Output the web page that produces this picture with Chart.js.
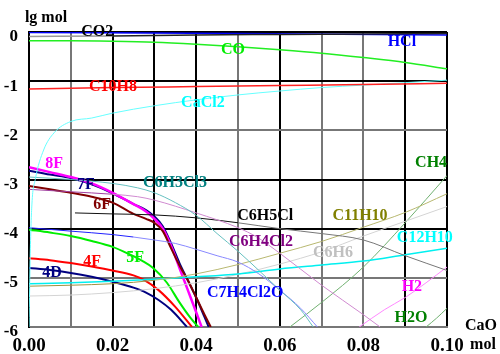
<!DOCTYPE html>
<html>
<head>
<meta charset="utf-8">
<script src="https://cdn.jsdelivr.net/npm/chart.js@4/dist/chart.umd.min.js"></script>
<style>
  html, body { margin: 0; padding: 0; background: #fff; }
  #wrap { width: 500px; height: 354px; position: relative; }
</style>
</head>
<body>
<div id="wrap"><canvas id="chart"></canvas></div>
<script>
// ========================
// DATA (x = CaO mol, y = lg mol)
// ========================
const co2X = [0, 0.02, 0.04, 0.06, 0.08, 0.1];
const co2Y = [-0.09, -0.08, -0.06, -0.05, -0.04, -0.03];

const hclX = [0, 0.05, 0.1];
const hclY = [-0.01, -0.03, -0.06];

const coX = [0, 0.01, 0.02, 0.03, 0.04, 0.05, 0.06, 0.07, 0.08, 0.09, 0.1];
const coY = [-0.18, -0.18, -0.19, -0.21, -0.25, -0.3, -0.36, -0.43, -0.52, -0.62, -0.75];

const c10h8X = [0, 0.02, 0.04, 0.06, 0.08, 0.1];
const c10h8Y = [-1.16, -1.13, -1.11, -1.09, -1.07, -1.04];

const cacl2X = [0, 0.0003, 0.0007, 0.0015, 0.0035, 0.006, 0.01, 0.015, 0.02, 0.03, 0.04, 0.05, 0.06, 0.07, 0.08, 0.09, 0.1];
const cacl2Y = [-6, -4.5, -3.5, -3.0, -2.4, -2.05, -1.82, -1.75, -1.65, -1.5, -1.38, -1.28, -1.2, -1.13, -1.08, -1.03, -0.98];

const f8X = [0, 0.005, 0.01, 0.015, 0.02, 0.025, 0.028, 0.03, 0.032, 0.034, 0.036, 0.038, 0.04, 0.0413];
const f8Y = [-2.75, -2.85, -2.95, -3.08, -3.27, -3.5, -3.65, -3.8, -4.0, -4.35, -4.8, -5.25, -5.7, -6];

const f7X = [0, 0.005, 0.01, 0.015, 0.02, 0.025, 0.028, 0.03, 0.032, 0.034, 0.036, 0.038, 0.04, 0.042, 0.043];
const f7Y = [-2.82, -2.9, -2.97, -3.1, -3.28, -3.5, -3.62, -3.75, -3.95, -4.3, -4.7, -5.05, -5.4, -5.8, -6];

const f6X = [0, 0.005, 0.01, 0.015, 0.02, 0.025, 0.028, 0.03, 0.032, 0.034, 0.036, 0.038, 0.04, 0.042, 0.0435];
const f6Y = [-3.13, -3.2, -3.27, -3.35, -3.47, -3.7, -3.8, -3.88, -4.05, -4.4, -4.75, -5.05, -5.4, -5.75, -6];

const f5X = [0, 0.005, 0.01, 0.015, 0.02, 0.024, 0.027, 0.0297, 0.033, 0.036, 0.0385, 0.0405];
const f5Y = [-4.02, -4.08, -4.15, -4.25, -4.37, -4.52, -4.65, -4.8, -5.1, -5.5, -5.8, -6];

const f4X = [0, 0.005, 0.01, 0.015, 0.02, 0.025, 0.0275, 0.031, 0.035, 0.039];
const f4Y = [-4.6, -4.64, -4.7, -4.77, -4.85, -4.95, -5.04, -5.25, -5.59, -6];

const d4X = [0, 0.005, 0.01, 0.015, 0.02, 0.025, 0.028, 0.031, 0.034, 0.0378];
const d4Y = [-4.8, -4.84, -4.9, -4.98, -5.08, -5.2, -5.3, -5.45, -5.65, -6];

const c6h3cl3X = [0, 0.01, 0.02, 0.026, 0.03, 0.035, 0.04, 0.045, 0.05, 0.055, 0.06, 0.065, 0.068];
const c6h3cl3Y = [-2.95, -3.0, -3.08, -3.17, -3.27, -3.47, -3.73, -4.1, -4.46, -4.85, -5.25, -5.65, -6];

const c6h4cl2X = [0, 0.01, 0.02, 0.026, 0.03, 0.04, 0.05, 0.0545, 0.06, 0.07, 0.08, 0.084];
const c6h4cl2Y = [-3.2, -3.25, -3.3, -3.35, -3.42, -3.68, -3.98, -4.17, -4.5, -5.15, -5.75, -6];

const c6h5clX = [0.011, 0.02, 0.03, 0.04, 0.05, 0.06, 0.07, 0.08, 0.09, 0.1];
const c6h5clY = [-3.68, -3.7, -3.72, -3.78, -3.88, -4.0, -4.1, -4.23, -4.55, -4.85];

const c7h4cl2oX = [0, 0.01, 0.02, 0.025, 0.03, 0.035, 0.04, 0.045, 0.05, 0.055, 0.06, 0.065, 0.069];
const c7h4cl2oY = [-3.98, -4.05, -4.12, -4.17, -4.23, -4.3, -4.42, -4.55, -4.68, -4.92, -5.25, -5.62, -6];

const c11h10X = [0, 0.01, 0.02, 0.03, 0.04, 0.05, 0.06, 0.07, 0.08, 0.09, 0.1];
const c11h10Y = [-5.17, -5.15, -5.12, -5.05, -4.92, -4.73, -4.5, -4.26, -3.97, -3.67, -3.29];

const c12h10X = [0, 0.01, 0.02, 0.03, 0.04, 0.05, 0.06, 0.07, 0.08, 0.09, 0.1];
const c12h10Y = [-5.12, -5.1, -5.07, -5.03, -4.98, -4.92, -4.82, -4.74, -4.66, -4.53, -4.4];

const c6h6X = [0, 0.01, 0.02, 0.03, 0.04, 0.05, 0.06, 0.07, 0.08, 0.09, 0.1];
const c6h6Y = [-5.37, -5.35, -5.3, -5.22, -5.1, -4.93, -4.72, -4.47, -4.15, -3.85, -3.55];

const ch4X = [0.0624, 0.07, 0.08, 0.09, 0.1];
const ch4Y = [-6, -5.5, -4.78, -3.88, -2.92];

const h2X = [0.079, 0.085, 0.09, 0.095, 0.1];
const h2Y = [-6, -5.65, -5.4, -5.1, -4.78];

const h2oX = [0.095, 0.0975, 0.1];
const h2oY = [-6, -5.82, -5.62];

// curve labels (text, x, y in data units, colour)
const labelNames = ['CO2', 'CO', 'HCl', 'C10H8', 'CaCl2', '8F', '7F', 'C6H3Cl3', '6F', 'C6H5Cl',
    'C11H10', 'CH4', 'C6H4Cl2', 'C12H10', 'C6H6', '4F', '5F', '4D', 'H2', 'C7H4Cl2O', 'H2O'];
const labelX = [0.0163, 0.0488, 0.0892, 0.0201, 0.0416, 0.006, 0.0136, 0.0349, 0.0175, 0.0565,
    0.0792, 0.0962, 0.0555, 0.0947, 0.0727, 0.0151, 0.0254, 0.0055, 0.0916, 0.0517, 0.0914];
const labelY = [0.01, -0.36, -0.2, -1.12, -1.44, -2.68, -3.11, -3.07, -3.52, -3.74,
    -3.74, -2.66, -4.27, -4.19, -4.49, -4.67, -4.59, -4.9, -5.18, -5.3, -5.81];
const labelColors = ['#000000', '#00ee00', '#0000ff', '#ff0000', '#00ffff', '#ff00ff', '#000080', '#008080', '#800000', '#000000',
    '#808000', '#008000', '#800080', '#00ffff', '#c0c0c0', '#ff0000', '#00ee00', '#000080', '#ff00ff', '#0000ff', '#008000'];

// ========================
// DATASETS
// ========================
// colour changes at xSplit: dark start, lighter tail (as in the original plot)
function series(xs, ys, color, width, xSplit, startColor) {
    const ds = {
        data: xs.map(function(x, i) { return { x: x, y: ys[i] }; }),
        borderColor: color,
        borderWidth: width,
        pointRadius: 0,
        fill: false,
        cubicInterpolationMode: 'monotone'
    };
    if (xSplit !== undefined) {
        ds.segment = {
            borderColor: function(ctx) {
                return ctx.p0.parsed.x < xSplit ? startColor : undefined;
            }
        };
    }
    return ds;
}

const datasets = [
    series(co2X, co2Y, '#222222', 1.5, 0.02, '#999999'),
    series(hclX, hclY, '#0000ff', 1.5),
    series(coX, coY, '#22ee22', 1.5),
    series(c10h8X, c10h8Y, '#ff2222', 1.5),
    series(cacl2X, cacl2Y, '#66ffff', 1),
    series(c6h3cl3X, c6h3cl3Y, '#66c0c0', 1),
    series(c6h4cl2X, c6h4cl2Y, '#d08ad0', 1, 0.02, '#a040a0'),
    series(c6h5clX, c6h5clY, '#777777', 1, 0.05, '#111111'),
    series(c7h4cl2oX, c7h4cl2oY, '#8888ff', 1, 0.025, '#2020ff'),
    series(c11h10X, c11h10Y, '#b8b870', 1, 0.03, '#a09040'),
    series(c12h10X, c12h10Y, '#00f0f0', 1.5),
    series(c6h6X, c6h6Y, '#d4d4d4', 1),
    series(ch4X, ch4Y, '#70b070', 1),
    series(h2X, h2Y, '#ff88ff', 1),
    series(h2oX, h2oY, '#70b070', 1),
    series(d4X, d4Y, '#000080', 2),
    series(f4X, f4Y, '#ff0000', 2),
    series(f5X, f5Y, '#00ee00', 2),
    series(f6X, f6Y, '#800000', 2),
    series(f8X, f8Y, '#ff00ff', 2.5),
    series(f7X, f7Y, '#000080', 2)
];

// ========================
// TEXT PLUGIN
// ========================
const textPlugin = {
    id: 'texts',
    afterDatasetsDraw: function(chart) {
        const ctx = chart.ctx;
        const xs = chart.scales.x;
        const ys = chart.scales.y;
        ctx.save();
        ctx.textAlign = 'center';
        ctx.textBaseline = 'middle';
        ctx.font = 'bold 16px "Liberation Serif", serif';
        labelNames.forEach(function(name, i) {
            ctx.fillStyle = labelColors[i];
            ctx.fillText(name, xs.getPixelForValue(labelX[i]), ys.getPixelForValue(labelY[i]));
        });
        // axis titles
        ctx.fillStyle = '#000';
        ctx.fillText('lg mol', 46, 18);
        ctx.fillText('CaO', 481, 326);
        ctx.fillText('mol', 483, 345);
        ctx.restore();
    }
};

const grayX = [1, 5, 7, 8];
const grayY = [-2, -5, -6];

new Chart(document.getElementById('chart'), {
    type: 'line',
    data: { datasets: datasets },
    options: {
        responsive: true,
        maintainAspectRatio: false,
        animation: false,
        layout: { padding: { top: 32, right: 53, left: 0, bottom: 0 } },
        plugins: {
            legend: { display: false },
            tooltip: { enabled: false }
        },
        scales: {
            x: {
                type: 'linear',
                min: 0,
                max: 0.1,
                afterFit: function(scale) { scale.height = 27; },
                border: { display: true, color: '#777', width: 2 },
                grid: {
                    drawTicks: false,
                    lineWidth: 2,
                    color: function(c) {
                        return grayX.includes(Math.round(c.tick.value * 100)) ? '#777' : '#000';
                    }
                },
                ticks: {
                    stepSize: 0.01,
                    autoSkip: false,
                    maxRotation: 0,
                    padding: 8,
                    color: '#000',
                    font: { family: '"Liberation Serif", serif', size: 19, weight: 'bold' },
                    callback: function(v) {
                        return Math.round(v * 100) % 2 === 0 ? v.toFixed(2) : '';
                    }
                }
            },
            y: {
                type: 'linear',
                min: -6,
                max: 0,
                afterFit: function(scale) { scale.width = 29; },
                border: { display: true, color: '#000', width: 2 },
                grid: {
                    drawTicks: false,
                    lineWidth: 2,
                    color: function(c) {
                        return grayY.includes(Math.round(c.tick.value)) ? '#777' : '#000';
                    }
                },
                ticks: {
                    stepSize: 1,
                    padding: 11,
                    labelOffset: 5,
                    color: '#000',
                    font: { family: '"Liberation Serif", serif', size: 17, weight: 'bold' }
                }
            }
        }
    },
    plugins: [textPlugin]
});
</script>
</body>
</html>
